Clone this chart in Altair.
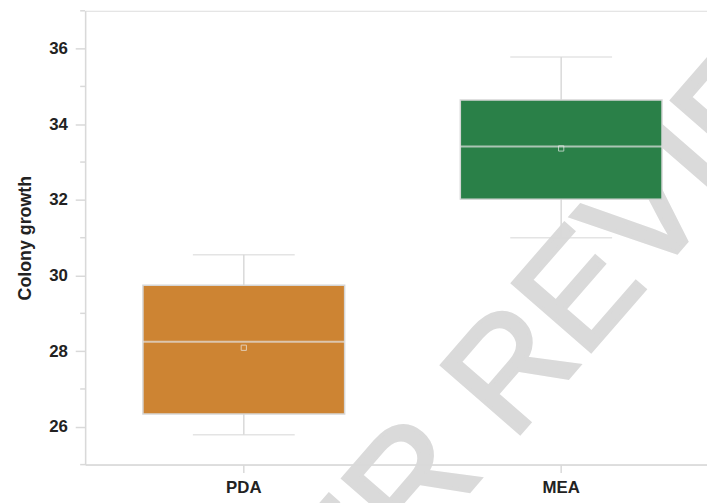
import altair as alt
import pandas as pd

groups = ["PDA", "MEA"]
whisker_low = [25.79, 31.0]
q1 = [26.34, 32.02]
median = [28.25, 33.41]
q3 = [29.74, 34.64]
whisker_high = [30.55, 35.78]
mean = [28.09, 33.36]
colors = ["#CD8433", "#2A8048"]
major_ticks = [26, 28, 30, 32, 34, 36]
minor_ticks = [25, 27, 29, 31, 33, 35, 37]

df = pd.DataFrame({
    "group": groups, "lo": whisker_low, "q1": q1, "med": median,
    "q3": q3, "hi": whisker_high, "mean": mean,
})

FONT = "Liberation Sans"
GRAY = "#d9d9d9"

x_enc = alt.X(
    "group:N", sort=groups,
    scale=alt.Scale(range=[0, 642], paddingInner=0, paddingOuter=0),
    axis=alt.Axis(title=None, labelAngle=0, labelFont=FONT, labelFontSize=17,
                  labelFontWeight="bold", labelColor="#222222", labelPadding=7,
                  tickSize=8, tickColor=GRAY, tickWidth=1.5,
                  domainColor=GRAY, domainWidth=1.5, zindex=1),
)
y_scale = alt.Scale(domain=[25, 37], nice=False, zero=False)
y_axis = alt.Axis(
    title="Colony growth", titleFont=FONT, titleFontSize=18, titleFontWeight="bold",
    titleColor="#222222", titlePadding=14,
    values=major_ticks,
    labelFont=FONT, labelFontSize=17, labelFontWeight="bold", labelColor="#222222",
    labelPadding=8, grid=False, tickSize=10,
    tickColor=GRAY, tickWidth=1.5, domainColor=GRAY, domainWidth=1.5, zindex=1,
)

base = alt.Chart(df)

watermark = alt.Chart(pd.DataFrame({"t": ["PEER REVIEW"]})).mark_text(
    angle=311, fontSize=152, font=FONT, fontWeight="normal", align="center",
    baseline="middle", color="#dadada", stroke="#dadada", strokeWidth=4,
).encode(x=alt.value(444), y=alt.value(352), text="t:N")

minor = alt.Chart(pd.DataFrame({"v": minor_ticks})).mark_rule(
    color=GRAY, strokeWidth=1.5).encode(
    y=alt.Y("v:Q", scale=y_scale, axis=y_axis), x=alt.value(-5), x2=alt.value(0))

whisk = base.mark_rule(color=GRAY, strokeWidth=1.5).encode(
    x=x_enc, y=alt.Y("lo:Q", scale=y_scale, axis=y_axis), y2="hi:Q")
cap_lo = base.mark_tick(size=103, thickness=1.5, color=GRAY).encode(x=x_enc, y="lo:Q")
cap_hi = base.mark_tick(size=103, thickness=1.5, color=GRAY).encode(x=x_enc, y="hi:Q")
box = base.mark_bar(size=204, stroke="#d6d6d6", strokeWidth=1.5).encode(
    x=x_enc, y="q1:Q", y2="q3:Q",
    color=alt.Color("group:N", scale=alt.Scale(domain=groups, range=colors), legend=None),
)
med = base.mark_tick(size=204, thickness=2, color="#e2e2e2").encode(x=x_enc, y="med:Q")
mn = base.mark_point(shape="square", size=28, filled=False, color="#eeeeee",
                     strokeWidth=1).encode(x=x_enc, y="mean:Q")

chart = alt.layer(watermark, minor, whisk, cap_lo, cap_hi, box, med, mn).properties(
    width=629, height=459,
    autosize=alt.AutoSizeParams(type="none"),
    padding={"left": 78, "top": 0, "right": 0, "bottom": 36},
).configure_view(stroke=None).configure(background="white")

chart.save("out.html", embed_options={"renderer": "svg", "actions": False})
